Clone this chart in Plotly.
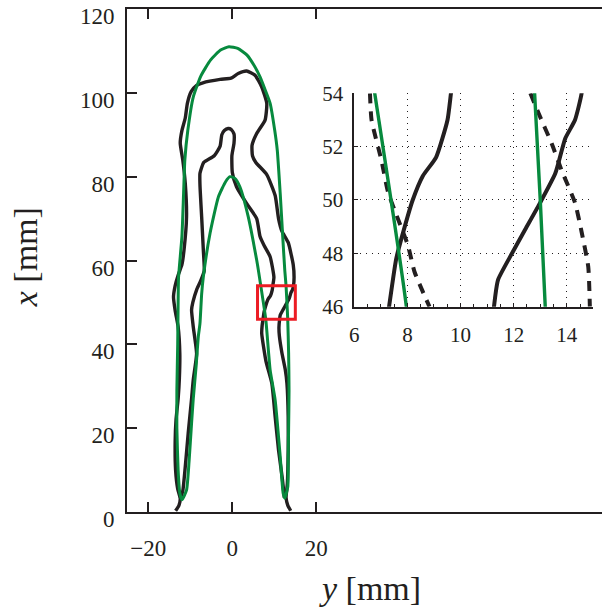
import plotly.graph_objects as go

# ---------------- data (horizontal = y [mm], vertical = x [mm]) ----------------
black_outer_y = [-13.5, -12.7, -12.4, -13.0, -13.5, -13.6, -13.4, -12.9, -12.6, -12.5, -12.9, -13.6, -14.0,
                 -13.6, -12.9, -12.0, -11.5, -10.9, -11.2, -11.8, -12.4, -12.0, -11.2, -10.7, -9.8, -8.5,
                 -7.0, -2.9, -0.3, 1.4, 3.4, 5.4, 7.0, 8.2, 7.8, 5.8, 4.7, 4.8, 5.6, 8.2, 10.2, 11.0, 11.8,
                 13.3, 14.5, 14.7, 14.56, 14.31, 13.94, 13.57, 13.0, 12.44, 11.94, 11.41, 11.26, 11.1, 11.2,
                 11.8, 12.6, 13.0, 13.3, 13.3, 13.1, 12.8, 13.2, 13.9]
black_outer_x = [0.3, 1.6, 3.2, 5.5, 10, 17, 22, 27, 32, 37.8, 44.2, 48, 51.3,
                 54, 56.5, 59, 62.5, 70.4, 78.4, 84, 88, 91, 94, 97.5, 100.3, 101.8,
                 102.4, 103.2, 103.5, 104.6, 105.2, 104.2, 101.4, 97.5, 93.5, 90.3, 87.5, 85, 83.4, 80.5, 75.5, 70, 67,
                 64.3, 59, 56, 54, 53.0, 52.3, 51.0, 49.9, 48.9, 48.0, 47.0, 46, 44, 42,
                 38, 34, 30.7, 22.7, 14.8, 6.8, 3.4, 1.6, 0.3]

black_inner_y = [12.4, 11.9, 11.0, 10.2, 9.4, 8.0, 7.0, 7.1, 7.31, 7.58, 7.9, 8.2, 8.58, 9.08, 9.51, 9.64,
                 9.9, 9.0, 7.6, 6.6, 5.8, 3.4, 1.0, 0.0, -0.1, 0.4, 0.4, -0.3, -1.0, -1.9, -2.5, -2.9, -4.3,
                 -6.8, -7.7, -7.7, -7.3, -6.9, -6.7, -7.6, -8.5, -9.4, -9.7, -9.3, -8.5, -9.3, -9.7, -10.5,
                 -11.2, -11.8, -12.4]
black_inner_x = [3.4, 8, 14.8, 22.7, 30.7, 36, 42.6, 44.5, 46, 47.8, 49.0, 50.0, 50.9, 51.6, 53.0, 54,
                 56, 60.9, 63.5, 65.7, 70.0, 73.6, 77.6, 81, 85, 88, 90.2, 91.3, 91.5, 91.0, 90.0, 87.3, 85.0,
                 83.4, 80.8, 78, 70.4, 62.5, 57.5, 55, 53, 50, 48.2, 44.2, 37.8, 31.5, 27, 18.8,
                 10.8, 5, 3.2]

green_y = [-12.0, -12.5, -12.9, -13.2, -13.2, -13.0, -12.9, -12.8, -12.0, -11.6, -11.3, -10.6, -9.3, -7.5,
           -5.2, -2.8, -0.8, 1.3, 3.5, 5.2, 6.6, 7.9, 9.0, 10.1, 10.7, 11.4, 12.0, 12.5, 12.79, 13.19, 13.4,
           13.5, 13.4, 13.3, 13.2, 12.5,
           12.1, 11.4, 10.2, 9.0, 7.96, 6.77, 6.2, 5.8, 3.8, 1.8, 0.6, -0.55, -1.6, -3.3, -5.3, -6.9, -7.3,
           -7.7, -8.1, -8.6, -9.3, -9.7, -10.3, -10.9, -12.0]
green_x = [2.9, 4.5, 10, 20, 29, 40, 50, 56, 65.7, 76, 84, 91, 99, 104,
           107.8, 110.2, 111, 110.6, 109, 106.5, 103.8, 100.5, 97.5, 91, 86.3, 76, 65.7, 57.5, 54, 46, 38,
           29, 20, 13.2, 6, 3.3,
           4.5, 13.2, 26.7, 33.9, 46, 54, 57.7, 60.1, 70.4, 77.6, 79.6, 80.0, 78.8, 75.2, 66.5, 56.1, 52,
           45, 41.8, 35, 27, 21.2, 12, 5.2, 2.9]

dash_left_y = [6.59, 6.65, 7.02, 7.27, 7.64, 8.02, 8.27, 8.83]
dash_left_x = [54, 53.0, 51.5, 50.3, 49.3, 48.3, 47.3, 46.0]
dash_right_y = [12.63, 12.94, 13.44, 13.81, 14.31, 14.56, 14.81, 14.87]
dash_right_x = [54, 53.25, 52.1, 51.1, 49.9, 48.8, 47.5, 46.0]

main_ticks_y = [-20, 0, 20]
main_ticks_x = [0, 20, 40, 60, 80, 100, 120]
inset_ticks_y = [6, 8, 10, 12, 14]
inset_ticks_x = [46, 48, 50, 52, 54]
zoom_box_y = [6, 15]
zoom_box_x = [46, 54]

BLACK = "#231f20"
GREEN = "#078a3e"
RED = "#ec1c24"
FONT = "Liberation Serif"

fig = go.Figure()

def add_line(xs, ys, color, width, xa, ya, dash=None, smooth=True):
    line = dict(color=color, width=width)
    if dash:
        line["dash"] = dash
    if smooth:
        line["shape"] = "spline"
        line["smoothing"] = 0.5
    fig.add_trace(go.Scatter(x=xs, y=ys, mode="lines", line=line, xaxis=xa, yaxis=ya,
                             hoverinfo="skip"))

# main axes
add_line(black_outer_y, black_outer_x, BLACK, 3.4, "x", "y")
add_line(black_inner_y, black_inner_x, BLACK, 3.4, "x", "y")
add_line(green_y, green_x, GREEN, 3.0, "x", "y")

# inset axes
add_line(black_outer_y, black_outer_x, BLACK, 4, "x2", "y2")
add_line(black_inner_y, black_inner_x, BLACK, 4, "x2", "y2")
add_line(dash_left_y, dash_left_x, BLACK, 4, "x2", "y2", dash="10px,8px")
add_line(dash_right_y, dash_right_x, BLACK, 4, "x2", "y2", dash="10px,8px")
add_line(green_y, green_x, GREEN, 3.4, "x2", "y2")

fig.add_shape(type="rect", xref="x", yref="y",
              x0=zoom_box_y[0], x1=zoom_box_y[1], y0=zoom_box_x[0], y1=zoom_box_x[1],
              line=dict(color=RED, width=3), layer="above")

fig.update_layout(
    width=602, height=611,
    margin=dict(l=127, r=0, t=9, b=99, autoexpand=False),
    paper_bgcolor="white", plot_bgcolor="white",
    showlegend=False,
    font=dict(family=FONT, color=BLACK, size=23),
    xaxis=dict(domain=[0, 1], range=[-25.07, 88.0], tickvals=main_ticks_y,
               ticks="inside", ticklen=10, tickwidth=1.5, tickcolor=BLACK,
               showline=True, linecolor=BLACK, linewidth=2, mirror="allticks",
               showgrid=False, zeroline=False, ticklabelstandoff=14,
               ticklabeloverflow="allow",
               tickfont=dict(family=FONT, size=23, color=BLACK)),
    yaxis=dict(domain=[0, 1], range=[0, 120], tickvals=main_ticks_x,
               ticks="inside", ticklen=10, tickwidth=1.5, tickcolor=BLACK,
               showline=True, linecolor=BLACK, linewidth=2, mirror=False,
               showgrid=False, zeroline=False, ticklabelstandoff=6,
               ticklabelshift=7, ticklabeloverflow="allow",
               tickfont=dict(family=FONT, size=23, color=BLACK)),
    xaxis2=dict(domain=[0.4785, 0.9817], range=[6, 15], anchor="y2",
                tickvals=inset_ticks_y, ticks="inside", ticklen=4, tickwidth=1,
                tickcolor=BLACK, showline=True, linecolor=BLACK, linewidth=1.5,
                showgrid=True, gridcolor=BLACK, gridwidth=1.2, griddash="1px,5px",
                zeroline=False, ticklabelstandoff=8, ticklabeloverflow="allow",
                minor=dict(ticks="inside", dtick=0.5, ticklen=3, tickcolor=BLACK, showgrid=False),
                tickfont=dict(family=FONT, size=21, color=BLACK)),
    yaxis2=dict(domain=[0.4082, 0.8324], range=[46, 54], anchor="x2",
                tickvals=inset_ticks_x, ticks="inside", ticklen=4, tickwidth=1,
                tickcolor=BLACK, showline=True, linecolor=BLACK, linewidth=1.5,
                showgrid=True, gridcolor=BLACK, gridwidth=1.2, griddash="1px,5px",
                zeroline=False, ticklabelstandoff=5, ticklabeloverflow="allow",
                tickfont=dict(family=FONT, size=21, color=BLACK)),
    annotations=[
        dict(text="<i>y</i> [mm]", xref="paper", yref="paper", x=0.5116, y=-0.152,
             xanchor="center", yanchor="middle", showarrow=False,
             font=dict(family=FONT, size=34, color=BLACK)),
        dict(text="<i>x</i> [mm]", xref="paper", yref="paper", x=-0.212, y=0.507,
             xanchor="center", yanchor="middle", showarrow=False, textangle=-90,
             font=dict(family=FONT, size=34, color=BLACK)),
    ],
)

fig.write_html("out.html")
